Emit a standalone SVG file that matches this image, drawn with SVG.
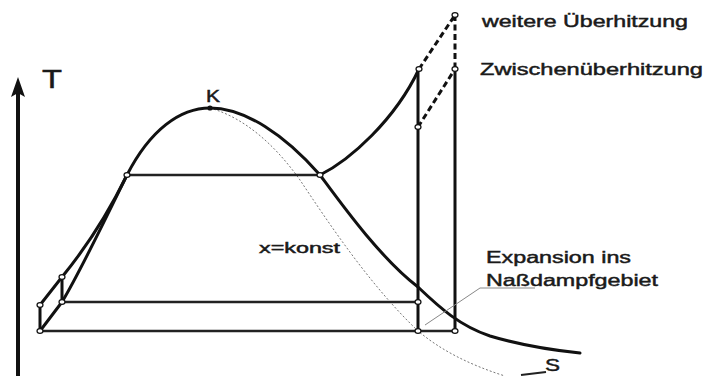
<svg xmlns="http://www.w3.org/2000/svg" width="705" height="376" viewBox="0 0 705 376">
<style>
.t{font-family:"Liberation Sans",Arial,sans-serif;fill:#1a1a1a;stroke:#1a1a1a;stroke-width:0.45}
.thick{fill:none;stroke:#111;stroke-width:3;stroke-linecap:round;stroke-linejoin:round}
.med{fill:none;stroke:#222;stroke-width:2.6}
.dash{fill:none;stroke:#111;stroke-width:3;stroke-dasharray:6 3.5}
.dot{fill:none;stroke:#777;stroke-width:1;stroke-dasharray:2 2}
.thin{fill:none;stroke:#888;stroke-width:1}
.pt{fill:#fff;stroke:#111;stroke-width:1.2}
</style>
<rect width="705" height="376" fill="#fff"/>
<g id="axes">
<line x1="18" y1="376" x2="18" y2="90" stroke="#111" stroke-width="4"/>
<path d="M18,77 L11,97 L18,93 L25,97 Z" fill="#111"/>
<line x1="521" y1="375" x2="546" y2="372" stroke="#222" stroke-width="2"/>
<text class="t" x="42" y="88" font-size="25" textLength="20" lengthAdjust="spacingAndGlyphs">T</text>
<text class="t" x="545" y="371" font-size="17" textLength="15" lengthAdjust="spacingAndGlyphs">S</text>
</g>
<g id="connectors">
<path class="dot" d="M210,108 C245,118 275,145 300,180 C330,225 370,285 417,330 C440,350 470,365 505,376"/>
<path class="thick" d="M127,175 C150,130 180,108 210,108 C245,108 285,135 320,175 C340,202 380,258 418,287 C440,308 460,326 490,336 C520,345 550,350 580,353"/>
<path class="thick" d="M320,175 C350,160 395,120 419,69"/>
<path class="thick" d="M40,305 L62,277 C80,255 105,220 127,175"/>
<path class="thick" d="M40,331 L62,302 C80,272 105,220 127,175"/>
<path class="thick" d="M40,305 L40,331 M62,277 L62,302"/>
<path class="med" d="M127,175 L320,175 M62,302 L418,302 M40,331 L455,331"/>
<path class="thick" d="M418,69 L418,331 M455,69 L455,331"/>
<path class="dash" d="M419,69 L455,15 M455,15 L455,69 M418,127 L455,69"/>
<path class="thin" d="M425,325 L480,288 L535,288"/>
</g>
<g id="points">
<ellipse class="pt" cx="40" cy="331" rx="3" ry="2.3"/>
<ellipse class="pt" cx="40" cy="305" rx="3" ry="2.3"/>
<ellipse class="pt" cx="62" cy="277" rx="3" ry="2.3"/>
<ellipse class="pt" cx="62" cy="302" rx="3" ry="2.3"/>
<ellipse class="pt" cx="127" cy="175" rx="3" ry="2.3"/>
<ellipse class="pt" cx="320" cy="175" rx="3" ry="2.3"/>
<ellipse class="pt" cx="418" cy="302" rx="3" ry="2.3"/>
<ellipse class="pt" cx="418" cy="331" rx="3" ry="2.3"/>
<ellipse class="pt" cx="455" cy="331" rx="3" ry="2.3"/>
<ellipse class="pt" cx="418" cy="127" rx="3" ry="2.3"/>
<ellipse class="pt" cx="419" cy="69" rx="3" ry="2.3"/>
<ellipse class="pt" cx="455" cy="69" rx="3" ry="2.3"/>
<ellipse class="pt" cx="455" cy="15" rx="3" ry="2.3"/>
<circle cx="210" cy="108" r="2.6" fill="#111"/>
</g>
<g id="labels">
<text class="t" x="206" y="102" font-size="16" textLength="14" lengthAdjust="spacingAndGlyphs">K</text>
<text class="t" x="482" y="27" font-size="16" textLength="206" lengthAdjust="spacingAndGlyphs">weitere Überhitzung</text>
<text class="t" x="480" y="75" font-size="16" textLength="223" lengthAdjust="spacingAndGlyphs">Zwischenüberhitzung</text>
<text class="t" x="259" y="253" font-size="14" textLength="81" lengthAdjust="spacingAndGlyphs">x=konst</text>
<text class="t" x="486" y="263" font-size="16" textLength="145" lengthAdjust="spacingAndGlyphs">Expansion ins</text>
<text class="t" x="486" y="286" font-size="16" textLength="172" lengthAdjust="spacingAndGlyphs">Naßdampfgebiet</text>
</g>
</svg>
